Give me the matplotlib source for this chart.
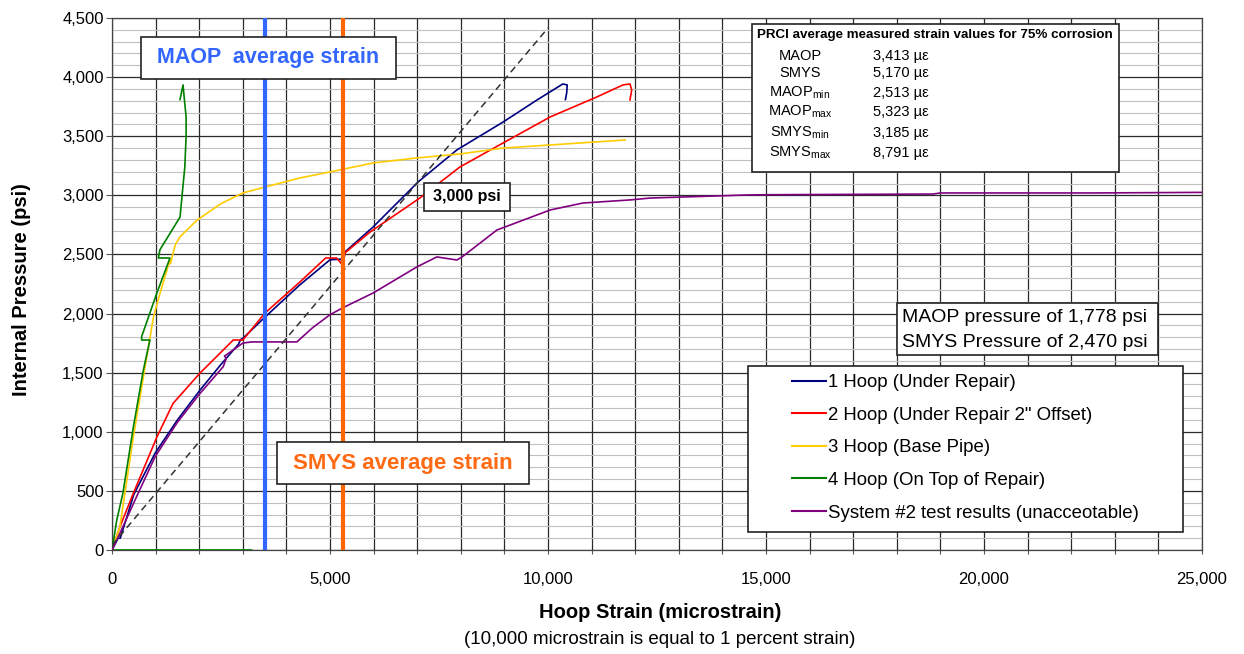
import numpy as np
import matplotlib
matplotlib.use("Agg")
import matplotlib.pyplot as plt
from matplotlib.ticker import MultipleLocator, FuncFormatter
from matplotlib.patches import Rectangle
from matplotlib.lines import Line2D

plt.rcParams['font.family'] = ['Liberation Sans', 'DejaVu Sans']
plt.rcParams['mathtext.fontset'] = 'custom'
plt.rcParams['mathtext.rm'] = 'Liberation Sans'

# ---------------- data (microstrain, psi) ----------------
hoop1_x = [0, 140, 190, 500, 990, 1500, 2020, 2500, 2900, 2950, 3000, 3510, 4300, 5000, 5250,
           5300, 5344, 5990, 7020, 7910, 8970, 9750, 10340, 10440, 10430, 10400]
hoop1_y = [0, 100, 100, 470, 820, 1100, 1353, 1570, 1740, 1780, 1790, 1970, 2240, 2455, 2460,
           2410, 2521, 2733, 3113, 3384, 3620, 3807, 3942, 3934, 3870, 3810]

hoop2_x = [0, 180, 490, 1030, 1400, 2020, 2780, 3000, 3510, 4310, 4900, 5150, 5290, 5340,
           5920, 7060, 7980, 8970, 10050, 11120, 11720, 11880, 11920, 11880]
hoop2_y = [0, 195, 480, 956, 1240, 1497, 1776, 1776, 2005, 2267, 2470, 2470, 2410, 2512,
           2690, 2977, 3240, 3443, 3663, 3832, 3934, 3942, 3891, 3807]

hoop3_x = [0, 180, 490, 950, 1100, 1330, 1340, 1450, 1560, 1950, 2500, 3000, 3510, 4310,
           5000, 5990, 6990, 7980, 8970, 10050, 11770]
hoop3_y = [0, 195, 956, 1970, 2170, 2455, 2420, 2580, 2650, 2790, 2930, 3020, 3070, 3147,
           3198, 3274, 3316, 3350, 3400, 3426, 3468]

hoop4_x = [0, 110, 250, 490, 720, 870, 680, 680, 1025, 1330, 1063, 1100, 1560, 1670, 1700,
           1700, 1650, 1630, 1560, np.nan, 0, 3200]
hoop4_y = [0, 254, 480, 1040, 1523, 1776, 1776, 1805, 2170, 2470, 2470, 2540, 2816, 3240, 3500,
           3663, 3850, 3934, 3810, np.nan, 0, 0]

sys2_x = [0, 180, 600, 990, 1500, 2020, 2550, 2620, 2580, 3000, 3200, 4240, 4600, 5000, 5300,
          5990, 6990, 7450, 7910, 8030, 8830, 9500, 10050, 10800, 11880, 12340, 14560, 15000,
          18830, 19000, 22500, 25000]
sys2_y = [0, 140, 480, 790, 1080, 1325, 1550, 1620, 1640, 1750, 1760, 1760, 1880, 1990, 2050,
          2174, 2394, 2479, 2453, 2479, 2707, 2800, 2876, 2935, 2961, 2977, 3003, 3005,
          3011, 3020, 3020, 3025]

ref_x = [0, 10000]          # dashed reference line
ref_y = [40, 4416]

maop_strain_line = 3520
smys_strain_line = 5290

series_labels = ["1 Hoop (Under Repair)", "2 Hoop (Under Repair 2\" Offset)",
                 "3 Hoop (Base Pipe)", "4 Hoop (On Top of Repair)",
                 "System #2 test results (unacceotable)"]
series_colors = ["#000080", "#ff0000", "#ffcc00", "#008000", "#800080"]

table_names = ["MAOP", "SMYS", r"MAOP$_{\rm min}$", r"MAOP$_{\rm max}$",
               r"SMYS$_{\rm min}$", r"SMYS$_{\rm max}$"]
table_values = ["3,413 µε", "5,170 µε", "2,513 µε", "5,323 µε", "3,185 µε", "8,791 µε"]

# ---------------- figure ----------------
W, H = 1244, 654
fig = plt.figure(figsize=(W / 100, H / 100), dpi=100)
fig.patch.set_facecolor('white')

def fx(px):
    return px / W

def fy(py):
    return 1 - py / H

ax = fig.add_axes([fx(112), fy(550), (1202 - 112) / W, (550 - 18) / H])
ax.set_xlim(0, 25000)
ax.set_ylim(0, 4500)

ax.xaxis.set_major_locator(MultipleLocator(1000))
ax.yaxis.set_major_locator(MultipleLocator(500))
ax.yaxis.set_minor_locator(MultipleLocator(100))
ax.xaxis.set_major_formatter(FuncFormatter(lambda v, p: f"{int(v):,}" if v % 5000 == 0 else ""))
ax.yaxis.set_major_formatter(FuncFormatter(lambda v, p: f"{int(v):,}"))
ax.grid(which='major', axis='both', color='#2a2a2a', lw=0.9)
ax.grid(which='minor', axis='y', color='#c0c0c0', lw=0.8)
ax.set_axisbelow(True)
ax.tick_params(axis='y', which='major', labelsize=12, length=4, color='#555555', pad=2)
ax.tick_params(axis='y', which='minor', length=0)
ax.tick_params(axis='x', which='major', length=3, color='#555555', pad=13, labelsize=12)
for s in ax.spines.values():
    s.set_color('#444444')
    s.set_linewidth(0.9)

lw = 1.2
for xs, ys, c in zip([hoop1_x, hoop2_x, hoop3_x, hoop4_x, sys2_x],
                     [hoop1_y, hoop2_y, hoop3_y, hoop4_y, sys2_y], series_colors):
    ax.plot(xs, ys, color=c, lw=lw, zorder=3)
ax.plot(ref_x, ref_y, color='#333333', lw=1.1, ls=(0, (4.5, 3)), zorder=3)

ax.axvline(maop_strain_line, color='#3366ff', lw=3.0, zorder=4)
ax.axvline(smys_strain_line, color='#ff6600', lw=3.0, zorder=4)

fig.text(fx(22), fy(290), "Internal Pressure (psi)", fontsize=14.5, fontweight='bold',
         rotation=90, ha='center', va='center')
fig.text(fx(660), fy(612), "Hoop Strain (microstrain)", fontsize=14.5, fontweight='bold',
         ha='center', va='center')
fig.text(fx(660), fy(640), "(10,000 microstrain is equal to 1 percent strain)", fontsize=13.5,
         ha='center', va='center')

def box(x0, y0, x1, y1, lw=1.2, z=10):
    r = Rectangle((fx(x0), fy(y1)), fx(x1) - fx(x0), fy(y0) - fy(y1),
                  transform=fig.transFigure, facecolor='white', edgecolor='#222222',
                  lw=lw, zorder=z)
    fig.add_artist(r)

# MAOP / SMYS labels
box(141, 37, 396, 79)
fig.text(fx(268.5), fy(58), "MAOP  average strain", color='#3366ff', fontsize=15.5,
         fontweight='bold', ha='center', va='center', zorder=11)
box(277, 442, 529, 484)
fig.text(fx(403), fy(463), "SMYS average strain", color='#ff6a13', fontsize=16,
         fontweight='bold', ha='center', va='center', zorder=11)

# 3,000 psi
box(424, 183, 510, 211)
fig.text(fx(467), fy(197), "3,000 psi", fontsize=11.5, fontweight='bold', ha='center',
         va='center', zorder=11)

# table
box(752, 24, 1119, 172)
fig.text(fx(757), fy(35), "PRCI average measured strain values for 75% corrosion",
         fontsize=9.6, fontweight='bold', ha='left', va='center', zorder=11)
row_y = [56, 73, 93, 112, 133, 153]
for nm, val, yy in zip(table_names, table_values, row_y):
    fig.text(fx(800), fy(yy), nm, fontsize=10.5, ha='center', va='center', zorder=11)
    fig.text(fx(873), fy(yy), val, fontsize=10.5, ha='left', va='center', zorder=11)

# pressure note
box(897, 303, 1158, 355)
fig.text(fx(902), fy(317), "MAOP pressure of 1,778 psi", fontsize=14, ha='left',
         va='center', zorder=11)
fig.text(fx(902), fy(342.5), "SMYS Pressure of 2,470 psi", fontsize=14, ha='left',
         va='center', zorder=11)

# legend
box(748, 366, 1183, 532)
handles = [Line2D([], [], color=c, lw=1.5) for c in series_colors]
leg = fig.legend(handles, series_labels, loc='upper left',
                 bbox_to_anchor=(fx(792), fy(374)), frameon=False, fontsize=13.4,
                 handlelength=1.8, handletextpad=0.15, labelspacing=0.84,
                 borderaxespad=0, borderpad=0)
leg.set_zorder(12)

fig.savefig("out.png", dpi=100)
